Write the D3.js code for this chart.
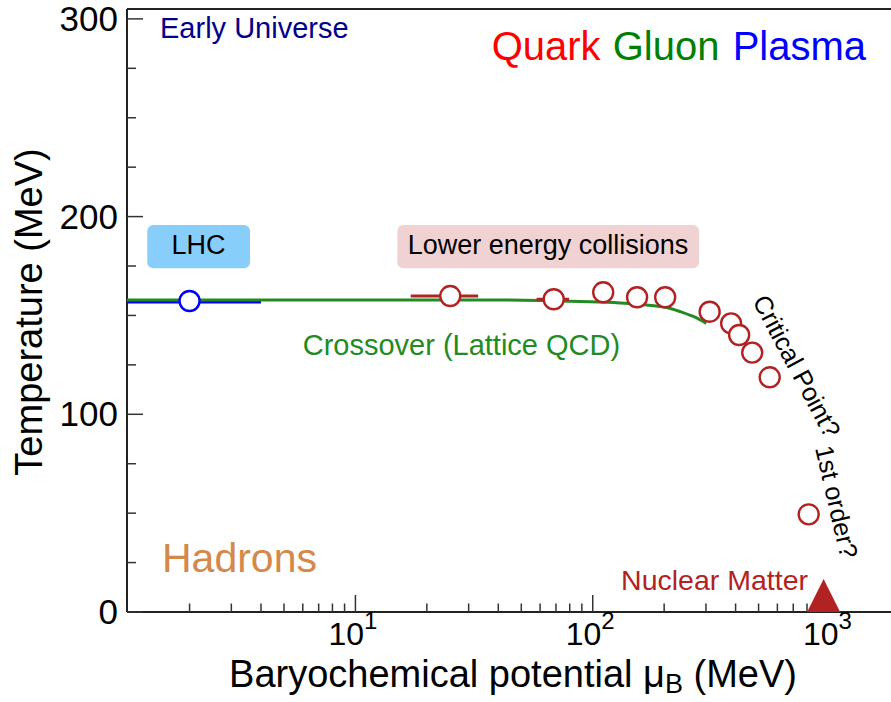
<!DOCTYPE html>
<html>
<head>
<meta charset="utf-8">
<script src="https://cdn.jsdelivr.net/npm/d3@7"></script>
<style>
  html, body { margin: 0; padding: 0; background: #fff; }
  svg { display: block; font-family: "Liberation Sans", Arial, Helvetica, sans-serif; }
</style>
</head>
<body>
<svg id="chart" width="891" height="702"></svg>
<script>
// ---------------- data ----------------
const xDomain = [1.09, 1000];
const yDomain = [0, 305];
const xMajorTicks = [10, 100, 1000];
const xMajorExp = ["1", "2", "3"];
const xMinorTicks = [2,3,4,5,6,7,8,9,20,30,40,50,60,70,80,90,200,300,400,500,600,700,800,900];
const yMajorTicks = [0, 100, 200, 300];
const yMinorTicks = [25, 50, 75, 125, 150, 175, 225, 250, 275];

// LHC measurement
const lhcMu = [2.0];
const lhcT = [157.3];
const lhcBandMu = [1.09, 4.0];
const lhcBandT = [157.0, 157.0];

// Lower energy collisions (freeze-out points)
const feMu = [25.1, 68.5, 110.7, 153.8, 202, 311, 383, 414, 470, 557, 813];
const feT  = [159.8, 158.2, 161.7, 159.2, 159.2, 151.9, 146.0, 140.1, 131.2, 118.7, 49.4];
const feErrLo = [17.1, 58, null, null, null, null, null, null, null, null, null];
const feErrHi = [32.9, 79.5, null, null, null, null, null, null, null, null, null];

// Lattice QCD crossover curve
const cxMu = [1.09, 10, 40, 89, 130, 169, 205, 234, 270, 301];
const cxT  = [157.8, 157.8, 157.8, 157.0, 156.3, 155.3, 154.0, 151.9, 149.1, 146.0];

// Nuclear matter
const nmMu = [940];
const nmT = [0];

// ---------------- layout ----------------
(function () {
const svg = d3.select("#chart");
const mLeft = 127, mBottom = 612, mTop = 9, decade = 237.3;
const x = d3.scaleLog().domain(xDomain)
  .range([mLeft, mLeft + decade * (Math.log10(xDomain[1]) - Math.log10(xDomain[0]))]);
const y = d3.scaleLinear().domain(yDomain).range([mBottom, mTop]);

const red = "#b22222";

// frame
svg.append("line").attr("x1", mLeft).attr("x2", 900).attr("y1", mTop).attr("y2", mTop)
  .attr("stroke", "#222").attr("stroke-width", 2);
svg.append("line").attr("x1", mLeft).attr("x2", mLeft).attr("y1", mTop).attr("y2", mBottom)
  .attr("stroke", "#222").attr("stroke-width", 2);
svg.append("line").attr("x1", mLeft).attr("x2", 900).attr("y1", mBottom).attr("y2", mBottom)
  .attr("stroke", "#222").attr("stroke-width", 2);

// y ticks
const gy = svg.append("g");
gy.selectAll(".ymaj").data(yMajorTicks).join("line")
  .attr("x1", mLeft).attr("x2", mLeft + 16).attr("y1", d => y(d)).attr("y2", d => y(d))
  .attr("stroke", "#333").attr("stroke-width", 1.5);
gy.selectAll(".ymin").data(yMinorTicks).join("line")
  .attr("x1", mLeft).attr("x2", mLeft + 9).attr("y1", d => y(d)).attr("y2", d => y(d))
  .attr("stroke", "#333").attr("stroke-width", 1.5);
gy.selectAll("text").data(yMajorTicks).join("text")
  .attr("x", 118).attr("y", d => y(d) + 12)
  .attr("text-anchor", "end").attr("font-size", 35).attr("fill", "#000")
  .text(d => d);

// x ticks
const gx = svg.append("g");
gx.selectAll(".xmaj").data(xMajorTicks).join("line")
  .attr("x1", d => x(d)).attr("x2", d => x(d)).attr("y1", mBottom).attr("y2", mBottom - 17)
  .attr("stroke", "#333").attr("stroke-width", 1.5);
gx.selectAll(".xmin").data(xMinorTicks).join("line")
  .attr("x1", d => x(d)).attr("x2", d => x(d)).attr("y1", mBottom).attr("y2", mBottom - 8.5)
  .attr("stroke", "#333").attr("stroke-width", 1.5);
const xl = gx.selectAll(".xl").data(xMajorTicks).join("text")
  .attr("x", d => x(d) - 27).attr("y", 645)
  .attr("font-size", 32).attr("fill", "#000");
xl.append("tspan").text("10");
xl.append("tspan").attr("dy", -16).attr("font-size", 24).text((d, i) => xMajorExp[i]);

// axis titles
svg.append("text")
  .attr("transform", "translate(42,312) rotate(-90)")
  .attr("text-anchor", "middle").attr("font-size", 38).attr("fill", "#000")
  .text("Temperature (MeV)");
const xt = svg.append("text")
  .attr("x", 513).attr("y", 687).attr("text-anchor", "middle")
  .attr("font-size", 38).attr("fill", "#000");
xt.append("tspan").text("Baryochemical potential \u03bc");
xt.append("tspan").attr("dy", 6).attr("font-size", 27).text("B");
xt.append("tspan").attr("dy", -6).text(" (MeV)");

// label boxes
svg.append("rect").attr("x", 147.3).attr("y", 225).attr("width", 102.7).attr("height", 43.3)
  .attr("rx", 6).attr("fill", "#87cefa");
svg.append("text").attr("x", 198.6).attr("y", 254).attr("text-anchor", "middle")
  .attr("font-size", 27).attr("fill", "#000").text("LHC");
svg.append("rect").attr("x", 397.3).attr("y", 225).attr("width", 301.7).attr("height", 43.3)
  .attr("rx", 6).attr("fill", "#f0d2d2");
svg.append("text").attr("x", 548).attr("y", 254).attr("text-anchor", "middle")
  .attr("font-size", 27).attr("fill", "#000").text("Lower energy collisions");

// LHC band
svg.append("path")
  .attr("d", d3.line().x(d => x(d[0])).y(d => y(d[1]))(lhcBandMu.map((m, i) => [m, lhcBandT[i]])))
  .attr("fill", "none").attr("stroke", "#0000ff").attr("stroke-width", 4);

// crossover curve
svg.append("path")
  .attr("d", d3.line().x(d => x(d[0])).y(d => y(d[1])).curve(d3.curveMonotoneX)(cxMu.map((m, i) => [m, cxT[i]])))
  .attr("fill", "none").attr("stroke", "#228b22").attr("stroke-width", 3);

// error bars
feMu.forEach((m, i) => {
  if (feErrLo[i] != null) {
    svg.append("line").attr("x1", x(feErrLo[i])).attr("x2", x(feErrHi[i]))
      .attr("y1", y(feT[i])).attr("y2", y(feT[i]))
      .attr("stroke", red).attr("stroke-width", 3);
  }
});

// freeze-out circles
svg.selectAll(".fe").data(feMu).join("circle")
  .attr("cx", d => x(d)).attr("cy", (d, i) => y(feT[i])).attr("r", 10)
  .attr("fill", "#fff").attr("stroke", red).attr("stroke-width", 2.4);

// LHC point
svg.selectAll(".lhc").data(lhcMu).join("circle")
  .attr("cx", d => x(d)).attr("cy", (d, i) => y(lhcT[i])).attr("r", 10)
  .attr("fill", "#fff").attr("stroke", "#0000ff").attr("stroke-width", 2.4);

// nuclear matter triangle
svg.selectAll(".nm").data(nmMu).join("path")
  .attr("d", (d, i) => {
    const cx = x(d), by = y(nmT[i]);
    return `M${cx - 16.5},${by} L${cx + 16.5},${by} L${cx},${by - 33} Z`;
  })
  .attr("fill", red);

// annotations
svg.append("text").attr("x", 160).attr("y", 38.3).attr("font-size", 29).attr("fill", "#00008b")
  .text("Early Universe");
const qgp = svg.append("text").attr("y", 59.5).attr("font-size", 40);
qgp.append("tspan").attr("x", 491.7).attr("fill", "#ff0000").text("Quark");
qgp.append("tspan").attr("x", 612.7).attr("fill", "#008000").text("Gluon");
qgp.append("tspan").attr("x", 732.7).attr("fill", "#0000ff").text("Plasma");
svg.append("text").attr("x", 162).attr("y", 571.7).attr("font-size", 41).attr("fill", "#d4884a")
  .text("Hadrons");
svg.append("text").attr("x", 302.7).attr("y", 355).attr("font-size", 29).attr("fill", "#228b22")
  .text("Crossover (Lattice QCD)");
svg.append("text").attr("x", 808).attr("y", 590).attr("text-anchor", "end")
  .attr("font-size", 28.5).attr("fill", red).text("Nuclear Matter");
svg.append("text").attr("transform", "translate(752,301) rotate(62)")
  .attr("font-size", 25.5).attr("fill", "#000").text("Critical Point?");
svg.append("text").attr("transform", "translate(815,448) rotate(77)")
  .attr("font-size", 25.5).attr("fill", "#000").text("1st order?");
})();
</script>
</body>
</html>
